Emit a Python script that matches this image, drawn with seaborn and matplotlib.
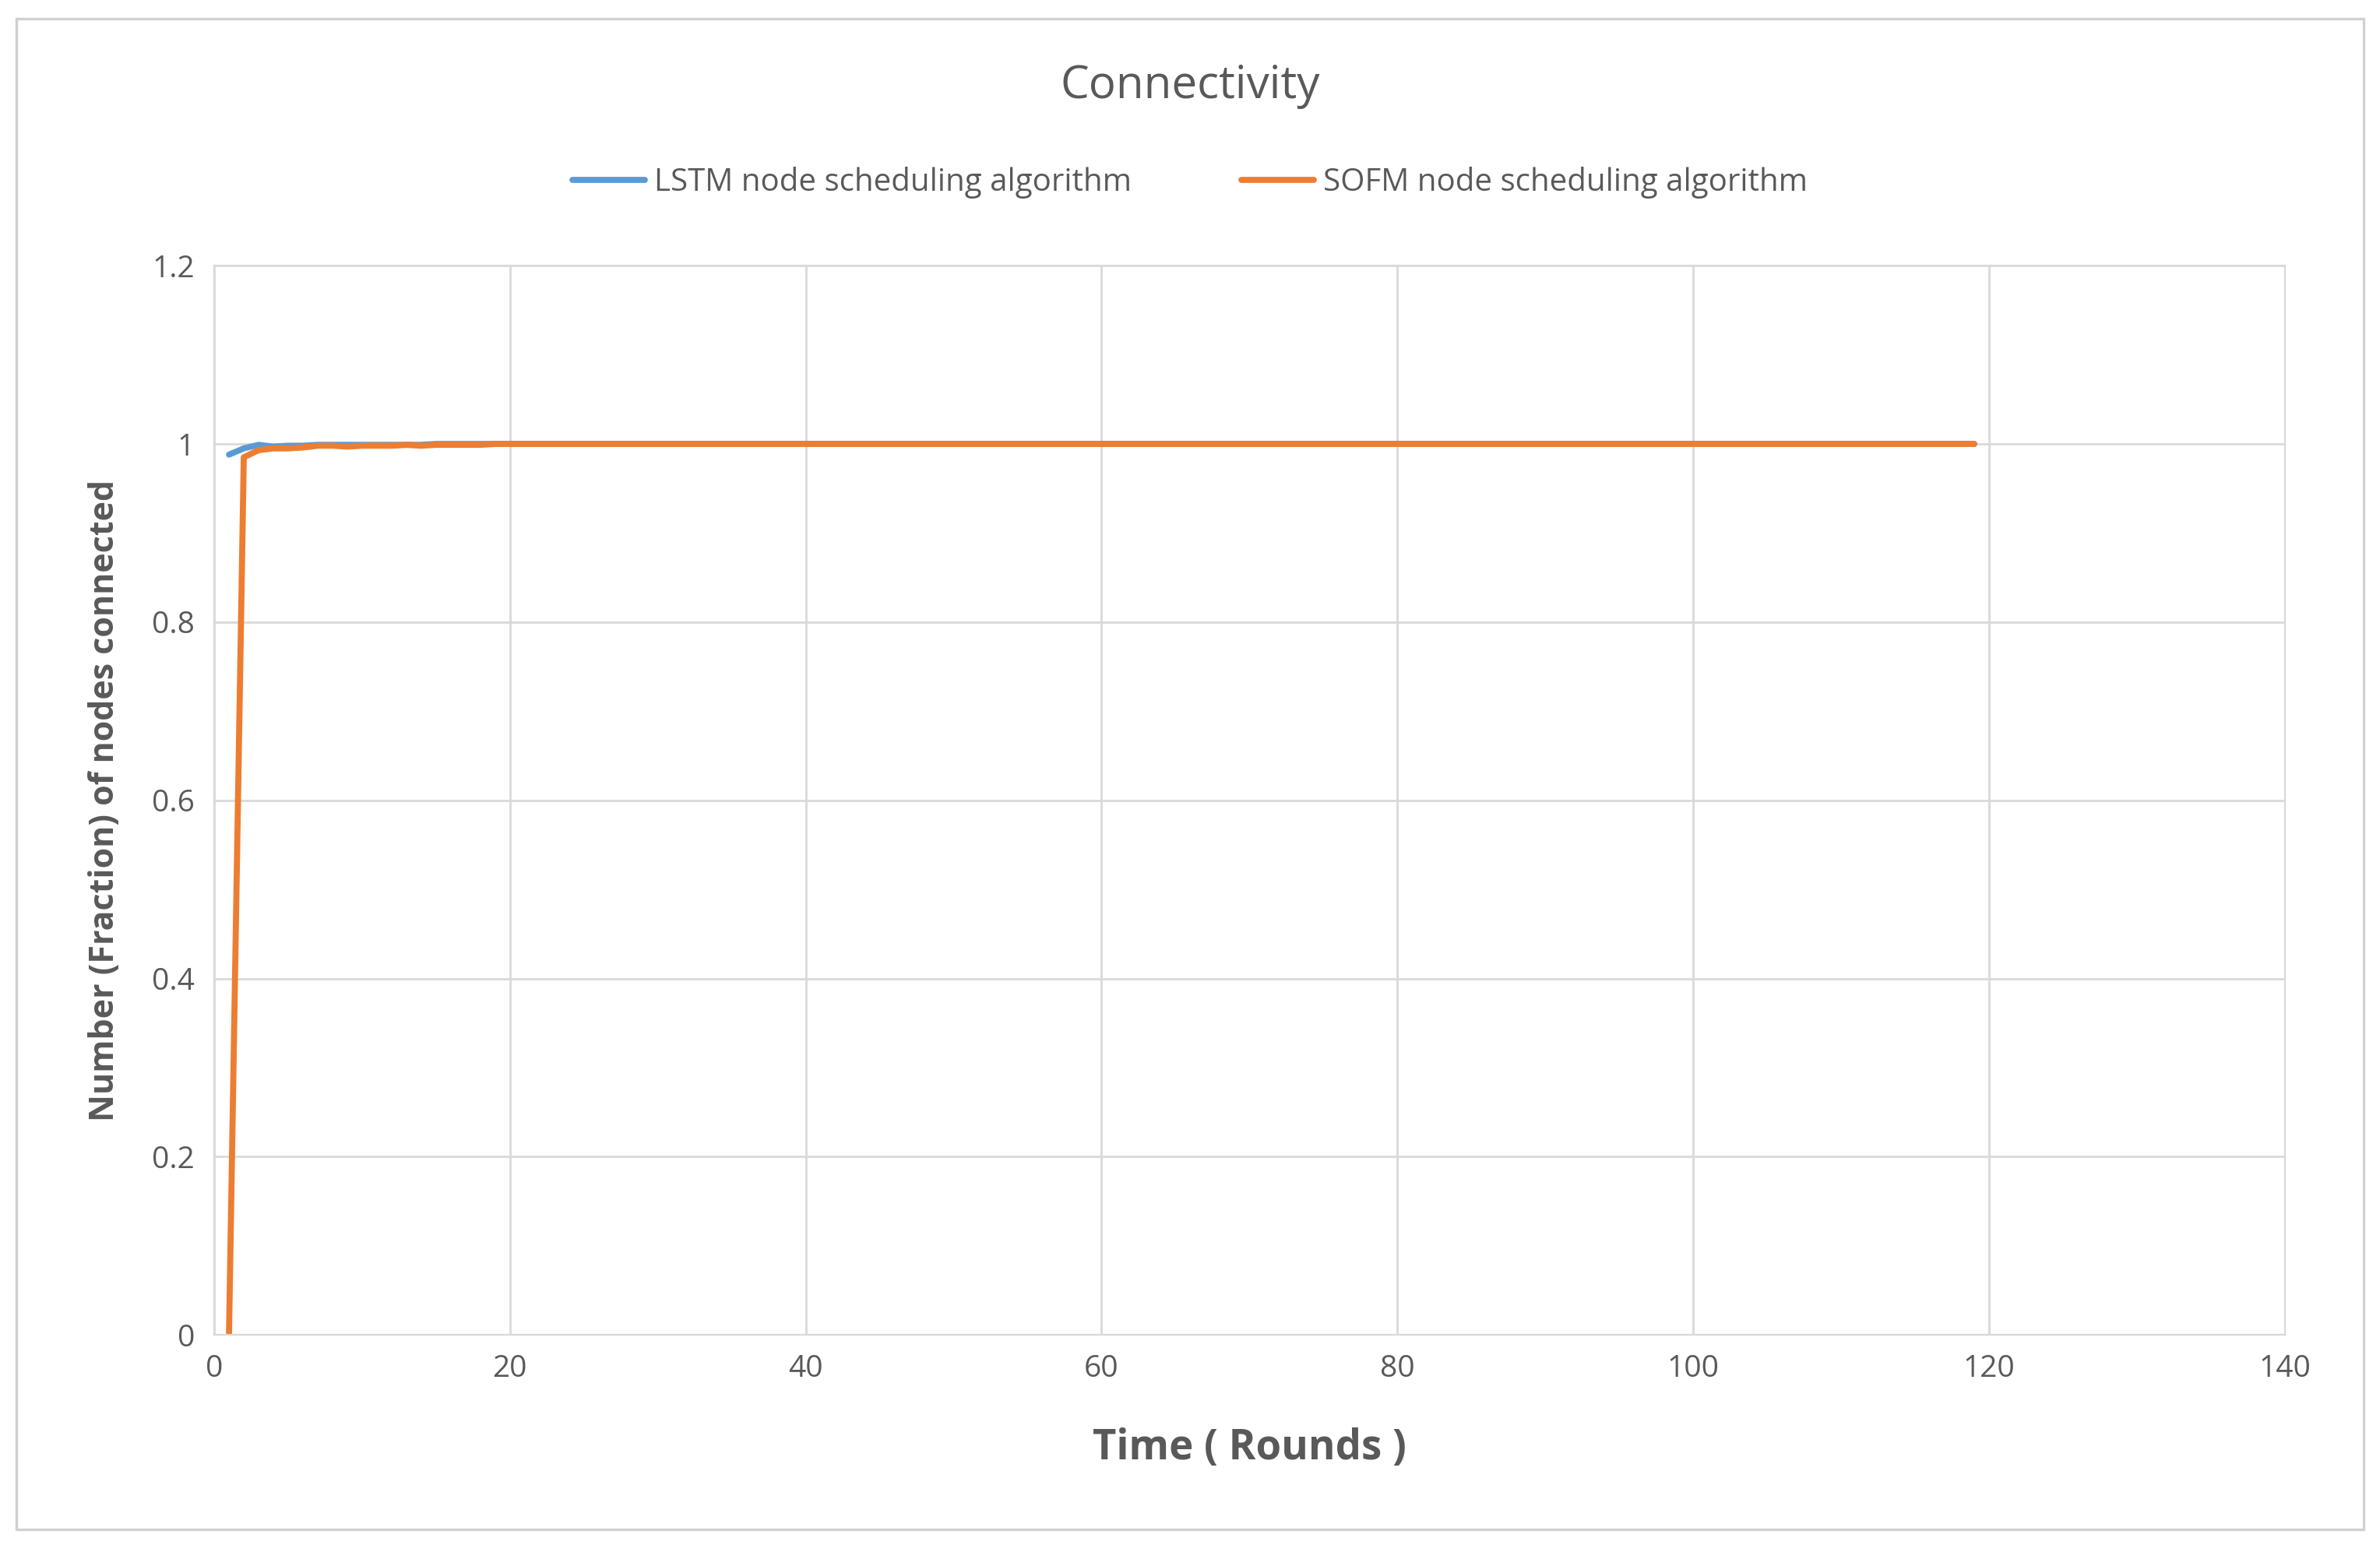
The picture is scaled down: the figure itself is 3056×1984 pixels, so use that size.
import numpy as np
import pandas as pd
import matplotlib.pyplot as plt
import seaborn as sns
from matplotlib.patches import Rectangle

rounds = list(range(1, 120))
lstm_head = [0.988, 0.995, 0.999, 0.997, 0.998, 0.998, 0.999, 0.999, 0.999, 0.999,
             0.999, 0.999, 0.999, 0.999, 1.0, 1.0, 1.0, 1.0, 1.0, 1.0]
sofm_head = [0.0, 0.985, 0.993, 0.995, 0.995, 0.996, 0.998, 0.998, 0.997, 0.998,
             0.998, 0.998, 0.999, 0.998, 0.999, 0.999, 0.999, 0.999, 1.0, 1.0]
lstm = lstm_head + [1.0] * (len(rounds) - len(lstm_head))
sofm = sofm_head + [1.0] * (len(rounds) - len(sofm_head))

df = pd.DataFrame({'Time': rounds * 2,
                   'value': lstm + sofm,
                   'series': ['LSTM node scheduling algorithm'] * len(rounds)
                             + ['SOFM node scheduling algorithm'] * len(rounds)})

sns.set_style('white')
plt.rcParams['font.family'] = ['Open Sans', 'DejaVu Sans']

fig = plt.figure(figsize=(15.28, 9.92), dpi=200)
ax = fig.add_axes([0.09, 0.136, 0.87, 0.692])
fig.patches.append(Rectangle((0.007, 0.01), 0.986, 0.978, transform=fig.transFigure,
                             fill=False, edgecolor='#d0d0d0', linewidth=1.2))

sns.lineplot(data=df, x='Time', y='value', hue='series',
             palette=['#5b9bd5', '#ed7d31'], linewidth=2.8, ax=ax, legend=False)

ax.set_xlim(0, 140)
ax.set_ylim(0, 1.2)
ax.set_xticks(range(0, 141, 20))
ax.set_yticks([0, 0.2, 0.4, 0.6, 0.8, 1, 1.2])
ax.set_yticklabels(['0', '0.2', '0.4', '0.6', '0.8', '1', '1.2'])
ax.grid(True, color='#d9d9d9', linewidth=1)
for s in ax.spines.values():
    s.set_color('#d9d9d9')
ax.tick_params(length=0, labelsize=14, colors='#595959', pad=9)
ax.set_xlabel('Time ( Rounds )', fontsize=19, fontweight='bold', color='#595959', labelpad=20)
ax.set_ylabel('Number (Fraction) of nodes connected', fontsize=15.5, fontweight='bold',
              color='#595959', labelpad=14)

fig.text(0.5, 0.944, 'Connectivity', ha='center', va='center', fontsize=21, color='#595959')
handles = [plt.Line2D([], [], color='#5b9bd5', lw=2.8), plt.Line2D([], [], color='#ed7d31', lw=2.8)]
fig.legend(handles, ['LSTM node scheduling algorithm', 'SOFM node scheduling algorithm'],
           loc='center', bbox_to_anchor=(0.5, 0.882), ncol=2, frameon=False,
           fontsize=14.5, labelcolor='#595959', columnspacing=3.5, handlelength=2.3,
           handletextpad=0.3)

fig.savefig('out.png', dpi=200)
